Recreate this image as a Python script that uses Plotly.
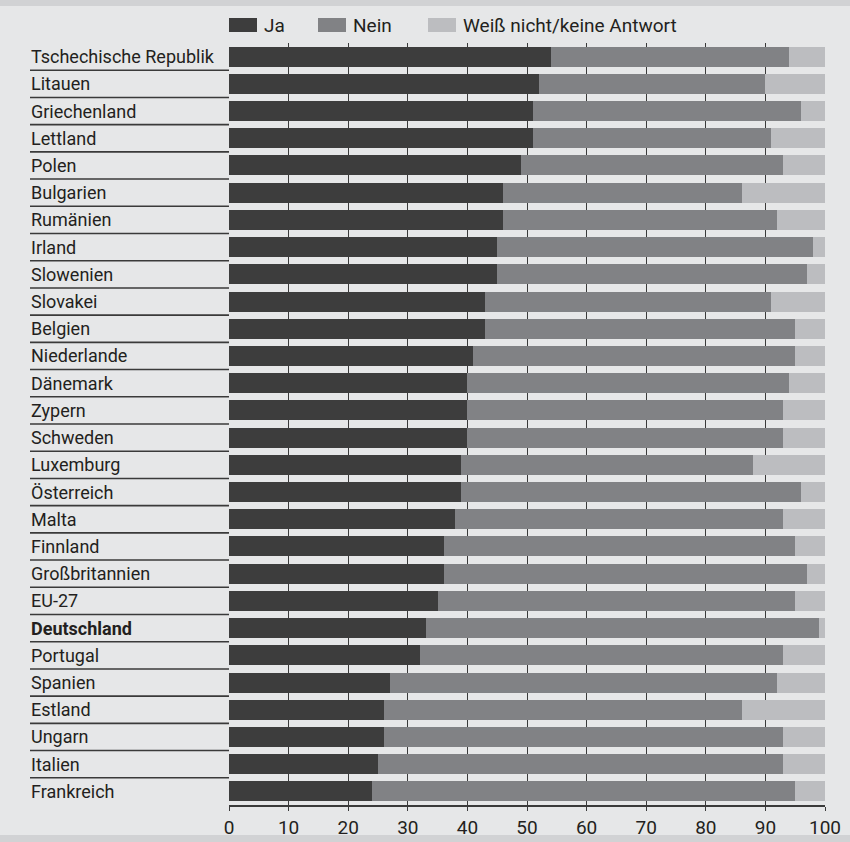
import plotly.graph_objects as go

countries = ["Tschechische Republik", "Litauen", "Griechenland", "Lettland", "Polen",
             "Bulgarien", "Rumänien", "Irland", "Slowenien", "Slovakei", "Belgien",
             "Niederlande", "Dänemark", "Zypern", "Schweden", "Luxemburg", "Österreich",
             "Malta", "Finnland", "Großbritannien", "EU-27", "Deutschland", "Portugal",
             "Spanien", "Estland", "Ungarn", "Italien", "Frankreich"]
ja =   [54, 52, 51, 51, 49, 46, 46, 45, 45, 43, 43, 41, 40, 40, 40, 39, 39, 38, 36, 36, 35, 33, 32, 27, 26, 26, 25, 24]
nein = [40, 38, 45, 40, 44, 40, 46, 53, 52, 48, 52, 54, 54, 53, 53, 49, 57, 55, 59, 61, 60, 66, 61, 65, 60, 67, 68, 71]
wn =   [6, 10, 4, 9, 7, 14, 8, 2, 3, 9, 5, 5, 6, 7, 7, 12, 4, 7, 5, 3, 5, 1, 7, 8, 14, 7, 7, 5]
series_names = ["Ja", "Nein", "Weiß nicht/keine Antwort"]
series_values = [ja, nein, wn]
colors = ["#3d3d3d", "#818285", "#bcbdc0"]
highlight = "Deutschland"
xticks = [0, 10, 20, 30, 40, 50, 60, 70, 80, 90, 100]

W, H = 850, 842
ML, MR, MT, MB = 229, 25, 43, 37
PW = W - ML - MR
PH = H - MT - MB
FONT = "Roboto"
TXT = "#231f20"

def px_x(px):
    return (px - ML) / PW

def px_y(py):
    return (H - MB - py) / PH

fig = go.Figure()
for name, vals, col in zip(series_names, series_values, colors):
    fig.add_trace(go.Bar(y=countries, x=vals, name=name, orientation="h",
                         marker=dict(color=col, line=dict(width=0)),
                         width=0.735, showlegend=False))

shapes = []
annotations = []
# label annotations + separators
for i, c in enumerate(countries):
    txt = f"<b>{c}</b>" if c == highlight else c
    annotations.append(dict(x=px_x(29), xref="paper", y=c, yref="y", text=txt,
                            showarrow=False, xanchor="left", yanchor="middle",
                            font=dict(family=FONT, size=18, color=TXT)))
    if i < len(countries) - 1:
        shapes.append(dict(type="line", xref="paper", yref="y", x0=px_x(30), x1=0,
                           y0=i + 0.5, y1=i + 0.5, line=dict(color="#3a3a3a", width=1.6)))

# top and bottom stripes
shapes.append(dict(type="rect", xref="paper", yref="paper", x0=px_x(0), x1=px_x(W),
                   y0=px_y(6), y1=px_y(0), fillcolor="#d1d2d4", line=dict(width=0), layer="below"))
shapes.append(dict(type="rect", xref="paper", yref="paper", x0=px_x(0), x1=px_x(W),
                   y0=px_y(H), y1=px_y(835), fillcolor="#d1d2d4", line=dict(width=0), layer="below"))

# manual legend
legend_x = [229, 318, 428]
for name, col, lx in zip(series_names, colors, legend_x):
    shapes.append(dict(type="rect", xref="paper", yref="paper", x0=px_x(lx), x1=px_x(lx + 28),
                       y0=px_y(32), y1=px_y(18), fillcolor=col, line=dict(width=0)))
    annotations.append(dict(x=px_x(lx + 33), xref="paper", y=px_y(25), yref="paper", text=name,
                            showarrow=False, xanchor="left", yanchor="middle",
                            font=dict(family=FONT, size=19, color=TXT)))

fig.update_layout(
    width=W, height=H, barmode="stack", bargap=0, showlegend=False,
    margin=dict(l=ML, r=MR, t=MT, b=MB, pad=0, autoexpand=False),
    paper_bgcolor="#e6e7e8", plot_bgcolor="#e6e7e8",
    shapes=shapes, annotations=annotations,
    xaxis=dict(range=[0, 100], tickvals=xticks, ticktext=[str(t) for t in xticks],
               automargin=False,
               showgrid=True, gridcolor="#3a3a3a", gridwidth=1.3,
               zeroline=False, showline=True, linecolor="#3a3a3a", linewidth=1.5,
               ticks="outside", ticklen=4, tickcolor="#3a3a3a", tickwidth=1.3,
               tickfont=dict(family=FONT, size=19, color=TXT), fixedrange=True),
    yaxis=dict(categoryorder="array", categoryarray=countries, autorange="reversed",
               automargin=False,
               showticklabels=False, showgrid=False, zeroline=False, showline=False,
               ticks="", fixedrange=True),
    font=dict(family=FONT, color=TXT),
)

fig.write_html("out.html", config={"displayModeBar": False},
               post_script="document.body.style.margin='0';document.body.style.background='#e6e7e8';")
